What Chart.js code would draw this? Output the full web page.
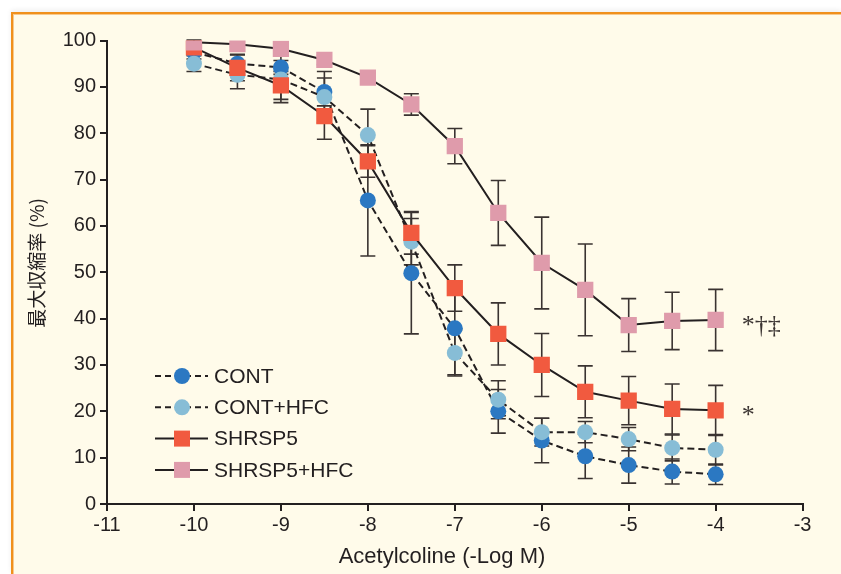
<!DOCTYPE html>
<html>
<head>
<meta charset="utf-8">
<script src="https://cdn.jsdelivr.net/npm/chart.js@4.4.1/dist/chart.umd.min.js"></script>
<style>
  html, body { margin: 0; padding: 0; background: #ffffff; }
  body { width: 841px; height: 574px; position: relative; overflow: hidden; }
  .frame {
    position: absolute; left: 11px; top: 12px; right: 0; bottom: 0;
    background: #fffbea;
    border-top: 2px solid #f0901c;
    border-left: 2px solid #f0901c;
    box-shadow: inset 1px 1px 0 #f8c98c, 0 -2px 5px rgba(0, 0, 0, 0.07);
  }
  canvas { position: absolute; left: 0; top: 0; }
</style>
</head>
<body>
<div class="frame"></div>
<canvas id="chart" width="841" height="574"></canvas>
<script>
const doses = [-10, -9.5, -9, -8.5, -8, -7.5, -7, -6.5, -6, -5.5, -5, -4.5, -4];

const cont = [97.5, 95.0, 94.2, 88.9, 65.5, 49.8, 37.9, 20.0, 13.7, 10.3, 8.4, 7.0, 6.4];
const contErr = [1.5, 2, 1.5, 3, 12, 13.1, 10, 4.7, 4.8, 4.8, 3.9, 2.7, 2.2];

const contHfc = [95.0, 92.6, 91.6, 87.8, 79.6, 56.6, 32.6, 22.5, 15.5, 15.5, 14.0, 12.1, 11.7];
const contHfcErr = [1.7, 3, 5, 5.5, 5.6, 5, 5, 4.1, 3, 2.3, 2.5, 2.8, 3.3];

const shrsp5 = [98.5, 94.1, 90.3, 83.7, 73.9, 58.5, 46.6, 36.7, 30.0, 24.2, 22.3, 20.5, 20.2];
const shrsp5Err = [1, 2.8, 3, 5, 3.4, 4.6, 5, 6.7, 6.8, 5.6, 5.2, 5.4, 5.4];

const shrsp5Hfc = [99.6, 99.2, 98.2, 95.8, 92.0, 86.2, 77.2, 62.8, 52.0, 46.2, 38.6, 39.5, 39.7];
const shrsp5HfcErr = [0.5, 0.5, 0.5, 1, 1, 2.3, 3.8, 7, 9.9, 9.9, 5.7, 6.2, 6.6];

const xTicks = [-11, -10, -9, -8, -7, -6, -5, -4, -3];
const yTicks = [0, 10, 20, 30, 40, 50, 60, 70, 80, 90, 100];

const INK = '#231f20';
const SANS = "'Liberation Sans', Arial, Helvetica, sans-serif";

const toPoints = (values) => values.map((v, i) => ({ x: doses[i], y: v }));

function series(label, values, errors, color, style, dashed, order, mark) {
  return {
    label: label,
    data: toPoints(values),
    errors: errors,
    mark: mark,
    order: order,
    borderColor: INK,
    borderWidth: 2,
    borderDash: dashed ? [7, 4] : [],
    tension: 0,
    pointStyle: style,
    pointRadius: style === 'rect' ? 11.5 : 8,
    pointBorderWidth: 0,
    pointBorderColor: color,
    pointBackgroundColor: color,
  };
}

const datasets = [
  series('CONT', cont, contErr, '#2b78c2', 'circle', true, 4),
  series('CONT+HFC', contHfc, contHfcErr, '#87bdd6', 'circle', true, 3),
  series('SHRSP5', shrsp5, shrsp5Err, '#f15a3f', 'rect', false, 2, '*'),
  series('SHRSP5+HFC', shrsp5Hfc, shrsp5HfcErr, '#df9bab', 'rect', false, 1, '*\u2020\u2021'),
];

// error bars under the markers
const errorBars = {
  id: 'errorBars',
  beforeDatasetsDraw(chart) {
    const ctx = chart.ctx;
    const y = chart.scales.y;
    ctx.save();
    ctx.strokeStyle = '#3a3331';
    ctx.lineWidth = 1.6;
    chart.data.datasets.forEach((ds, i) => {
      const meta = chart.getDatasetMeta(i);
      meta.data.forEach((pt, j) => {
        const v = ds.data[j].y;
        const e = ds.errors[j];
        const top = y.getPixelForValue(v + e);
        const bot = y.getPixelForValue(v - e);
        ctx.beginPath();
        ctx.moveTo(pt.x, top); ctx.lineTo(pt.x, bot);
        ctx.moveTo(pt.x - 7.5, top); ctx.lineTo(pt.x + 7.5, top);
        ctx.moveTo(pt.x - 7.5, bot); ctx.lineTo(pt.x + 7.5, bot);
        ctx.stroke();
      });
    });
    ctx.restore();
  }
};

// legend, significance marks and axis titles
const extras = {
  id: 'extras',
  afterDraw(chart) {
    const ctx = chart.ctx;
    const xs = chart.scales.x, ys = chart.scales.y;
    ctx.save();

    chart.data.datasets.forEach((ds, i) => {
      const cy = 376 + i * 31.3;
      ctx.strokeStyle = INK;
      ctx.lineWidth = 2;
      ctx.setLineDash(ds.borderDash.length ? [6, 4] : []);
      ctx.beginPath();
      ctx.moveTo(155, cy); ctx.lineTo(208, cy);
      ctx.stroke();
      ctx.setLineDash([]);
      ctx.fillStyle = ds.pointBackgroundColor;
      if (ds.pointStyle === 'rect') {
        ctx.fillRect(182 - 8, cy - 8, 16, 16);
      } else {
        ctx.beginPath();
        ctx.arc(182, cy, 8, 0, Math.PI * 2);
        ctx.fill();
      }
      ctx.fillStyle = INK;
      ctx.font = '21px ' + SANS;
      ctx.textAlign = 'left';
      ctx.textBaseline = 'middle';
      ctx.fillText(ds.label, 214, cy + 1);

      if (ds.mark) {
        const last = ds.data[ds.data.length - 1];
        ctx.font = "26px 'Liberation Serif', 'Times New Roman', serif";
        ctx.textBaseline = 'alphabetic';
        ctx.fillStyle = '#3a3331';
        ctx.fillText(ds.mark, xs.getPixelForValue(last.x) + 26, ys.getPixelForValue(last.y) + 13);
      }
    });

    ctx.fillStyle = INK;
    ctx.font = '22px ' + SANS;
    ctx.textAlign = 'center';
    ctx.textBaseline = 'middle';
    ctx.fillText('Acetylcoline (-Log M)', 442, 557);

    ctx.translate(37, 263);
    ctx.rotate(-Math.PI / 2);
    ctx.font = "19px 'Noto Sans CJK JP', sans-serif";
    ctx.fillText('最大収縮率 (%)', 0, 0);
    ctx.restore();
  }
};

const axisGrid = {
  drawOnChartArea: false,
  drawTicks: true,
  tickLength: 7,
  color: INK,
  lineWidth: 2,
};

new Chart(document.getElementById('chart'), {
  type: 'line',
  data: { datasets: datasets },
  options: {
    responsive: false,
    animation: false,
    layout: { padding: { top: 40.5, right: 38.4, left: 0, bottom: 0 } },
    plugins: { legend: { display: false }, tooltip: { enabled: false } },
    scales: {
      x: {
        type: 'linear',
        min: xTicks[0],
        max: xTicks[xTicks.length - 1],
        afterBuildTicks: (s) => { s.ticks = xTicks.map(v => ({ value: v })); },
        afterFit: (s) => { s.height = 70; },
        ticks: { color: INK, font: { family: SANS, size: 20 }, padding: 2 },
        grid: axisGrid,
        border: { color: INK, width: 2 },
      },
      y: {
        min: yTicks[0],
        max: yTicks[yTicks.length - 1],
        afterBuildTicks: (s) => { s.ticks = yTicks.map(v => ({ value: v })); },
        afterFit: (s) => { s.width = 107; },
        ticks: { color: INK, font: { family: SANS, size: 20 }, padding: 4 },
        grid: axisGrid,
        border: { color: INK, width: 2 },
      }
    }
  },
  plugins: [errorBars, extras]
});
</script>
</body>
</html>
